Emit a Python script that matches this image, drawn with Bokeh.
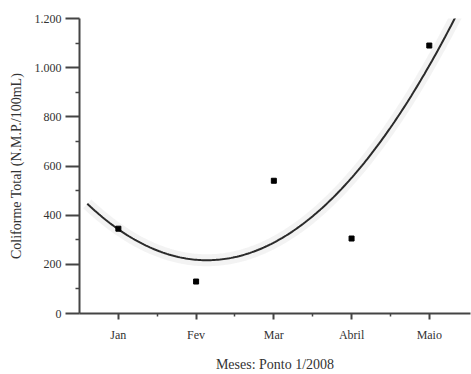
import numpy as np
from bokeh.plotting import figure
from bokeh.models import FixedTicker, Range1d
from bokeh.embed import file_html
from bokeh.resources import INLINE

months = ["Jan", "Fev", "Mar", "Abril", "Maio"]
month_pos = [1, 2, 3, 4, 5]
coliform = [345, 130, 540, 305, 1090]
y_ticks = [0, 200, 400, 600, 800, 1000, 1200]
y_tick_labels = ["0", "200", "400", "600", "800", "1.000", "1.200"]

# quadratic trend fitted to the data
coef = np.polyfit(month_pos, coliform, 2)
xs = np.linspace(0.6, 5.45, 200)
ys = np.polyval(coef, xs)

p = figure(width=471, height=374, output_backend="svg", toolbar_location=None,
           x_range=Range1d(0.5, 5.53), y_range=Range1d(0, 1200),
           min_border_left=79, min_border_right=1, min_border_top=18, min_border_bottom=58)
p.outline_line_color = None
p.xgrid.visible = False
p.ygrid.visible = False
p.background_fill_color = "white"

# faint band around the trend
p.line(xs, ys, line_color="#eeeeee", line_width=12, line_alpha=0.7)
p.line(xs, ys, line_color="#2a2a2a", line_width=2)
p.scatter(month_pos, coliform, marker="square", size=5, color="black")

font = "Liberation Serif"
xa = p.xaxis[0]
xa.ticker = FixedTicker(ticks=month_pos, minor_ticks=[1.5, 2.5, 3.5, 4.5])
xa.major_label_overrides = {m: lab for m, lab in zip(month_pos, months)}
xa.axis_label = "Meses: Ponto 1/2008"
ya = p.yaxis[0]
ya.ticker = FixedTicker(ticks=y_ticks, minor_ticks=[100, 300, 500, 700, 900, 1100])
ya.major_label_overrides = {t: lab for t, lab in zip(y_ticks, y_tick_labels)}
ya.axis_label = "Coliforme Total (N.M.P./100mL)"

for ax in (xa, ya):
    ax.axis_line_color = "#444444"
    ax.axis_line_width = 2
    ax.major_tick_line_color = "#444444"
    ax.major_tick_line_width = 2
    ax.minor_tick_line_color = "#444444"
    ax.minor_tick_line_width = 1.5
    ax.major_label_text_font = font
    ax.major_label_text_font_size = "12px"
    ax.major_label_text_color = "#333333"
    ax.axis_label_text_font = font
    ax.axis_label_text_font_size = "14px"
    ax.axis_label_text_font_style = "normal"
    ax.axis_label_text_color = "#333333"
    ax.major_tick_in = 0
    ax.minor_tick_in = 0

xa.major_tick_out = 6
xa.minor_tick_out = 3
xa.major_label_standoff = 8
xa.axis_label_standoff = 12
ya.major_tick_out = 14
ya.minor_tick_out = 4
ya.major_label_standoff = 4
ya.axis_label_standoff = 8

open("out.html", "w").write(file_html(p, INLINE))
